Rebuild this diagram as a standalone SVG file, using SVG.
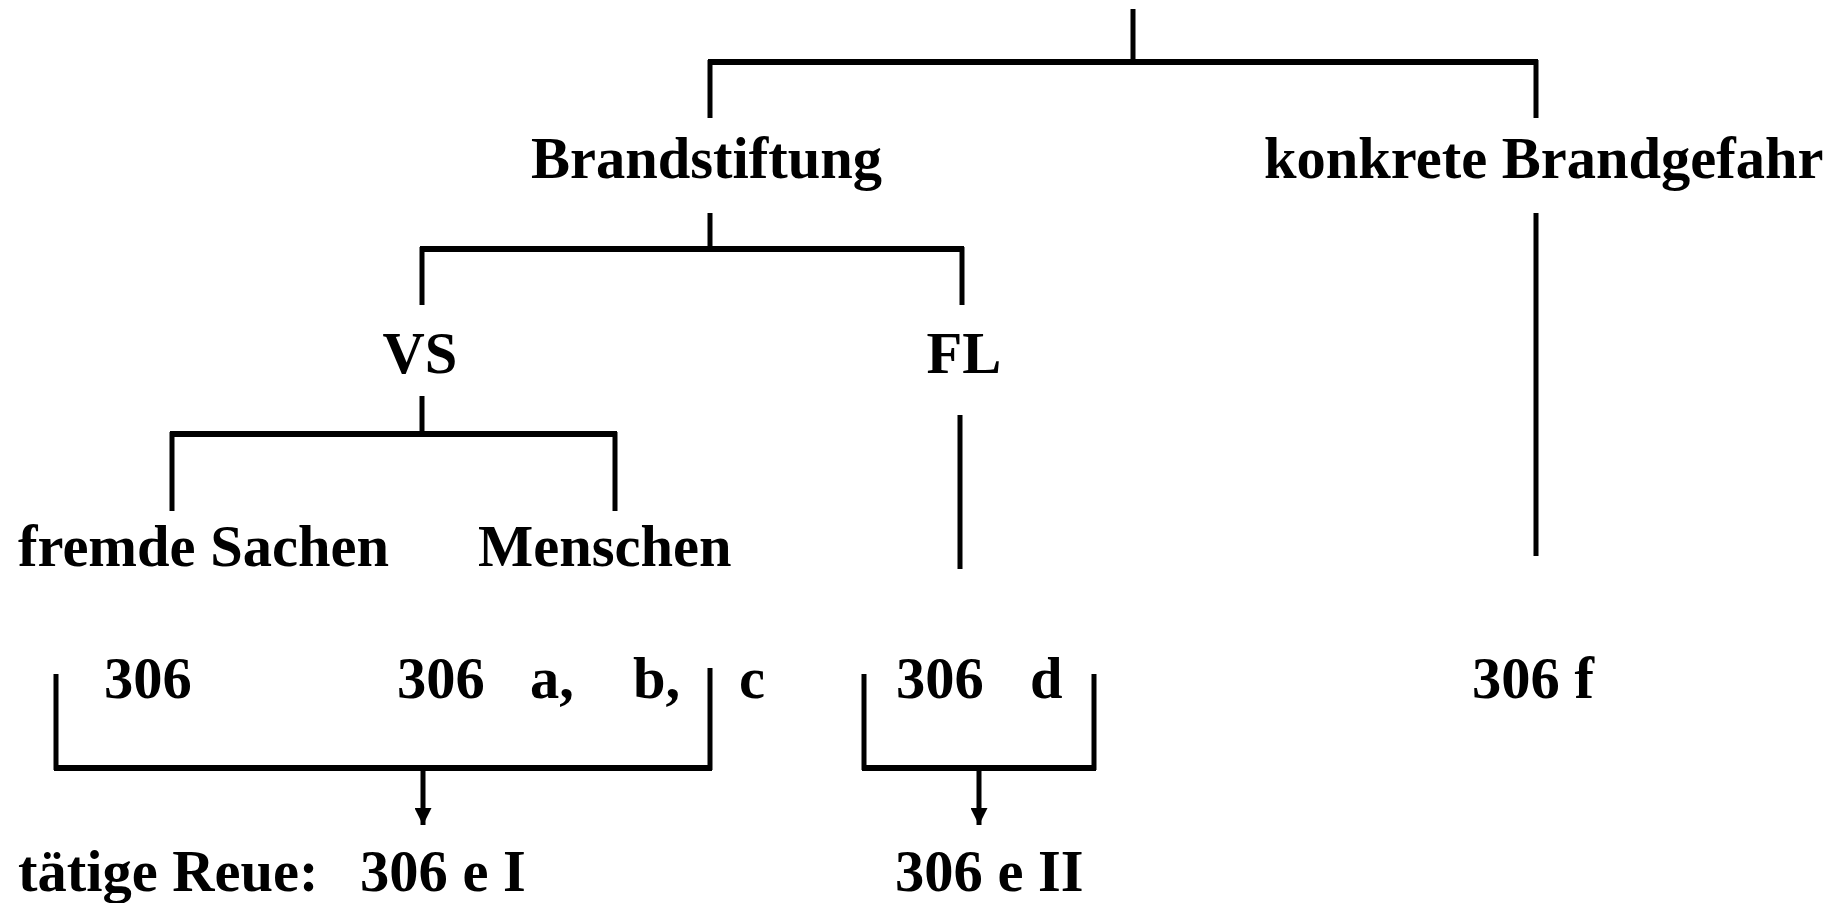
<svg xmlns="http://www.w3.org/2000/svg" width="1839" height="903" viewBox="0 0 1839 903">
<defs>
<style>
text{font-family:"Liberation Serif","Times New Roman",serif;font-weight:bold;font-size:58.5px;fill:#000}
.v{stroke:#000;stroke-width:5;fill:none}
.h{stroke:#000;stroke-width:6;fill:none}
</style>
<marker id="arr" viewBox="0 0 17 17" refX="17" refY="8.5" markerWidth="17" markerHeight="17" orient="auto" markerUnits="userSpaceOnUse">
<path d="M0,0 L17,8.5 L0,17 z" fill="#000"/>
</marker>
</defs>
<rect width="1839" height="903" fill="#fff"/>
<g id="connectors">
<line class="v" x1="1133" y1="9" x2="1133" y2="61"/>
<line class="h" x1="708" y1="62" x2="1538" y2="62"/>
<line class="v" x1="710" y1="60" x2="710" y2="118"/>
<line class="v" x1="1536" y1="60" x2="1536" y2="118"/>
<line class="v" x1="710" y1="213" x2="710" y2="249"/>
<line class="h" x1="420" y1="249" x2="964" y2="249"/>
<line class="v" x1="422" y1="247" x2="422" y2="305"/>
<line class="v" x1="962" y1="247" x2="962" y2="305"/>
<line class="v" x1="1536" y1="213" x2="1536" y2="556"/>
<line class="v" x1="422" y1="396" x2="422" y2="434"/>
<line class="h" x1="170" y1="434" x2="617" y2="434"/>
<line class="v" x1="172" y1="432" x2="172" y2="511"/>
<line class="v" x1="615" y1="432" x2="615" y2="511"/>
<line class="v" x1="960" y1="415" x2="960" y2="569"/>
<path class="v" d="M56,674 V770 M710,668 V770"/>
<line class="h" x1="54" y1="768" x2="712" y2="768"/>
<line class="v" x1="423" y1="768" x2="423" y2="825" marker-end="url(#arr)"/>
<path class="v" d="M864,674 V770 M1094,674 V770"/>
<line class="h" x1="862" y1="768" x2="1096" y2="768"/>
<line class="v" x1="979" y1="768" x2="979" y2="825" marker-end="url(#arr)"/>
</g>
<g id="n-brandstiftung"><text x="531" y="178">Brandstiftung</text></g>
<g id="n-konkrete"><text x="1264" y="178">konkrete Brandgefahr</text></g>
<g id="n-vs"><text x="420" y="373" text-anchor="middle">VS</text></g>
<g id="n-fl"><text x="964" y="373" text-anchor="middle">FL</text></g>
<g id="n-fremde"><text x="18" y="566">fremde Sachen</text></g>
<g id="n-menschen"><text x="478" y="566">Menschen</text></g>
<g id="n-306"><text x="104" y="698">306</text></g>
<g id="n-306abc">
<text x="397" y="698">306</text>
<text x="530" y="698">a,</text>
<text x="633" y="698">b,</text>
<text x="739" y="698">c</text>
</g>
<g id="n-306d"><text x="896" y="698">306</text><text x="1030" y="698">d</text></g>
<g id="n-306f"><text x="1472" y="698">306 f</text></g>
<g id="n-reue1"><text x="18" y="891">tätige Reue:</text><text x="360" y="891">306 e I</text></g>
<g id="n-reue2"><text x="895" y="891">306 e II</text></g>
</svg>
